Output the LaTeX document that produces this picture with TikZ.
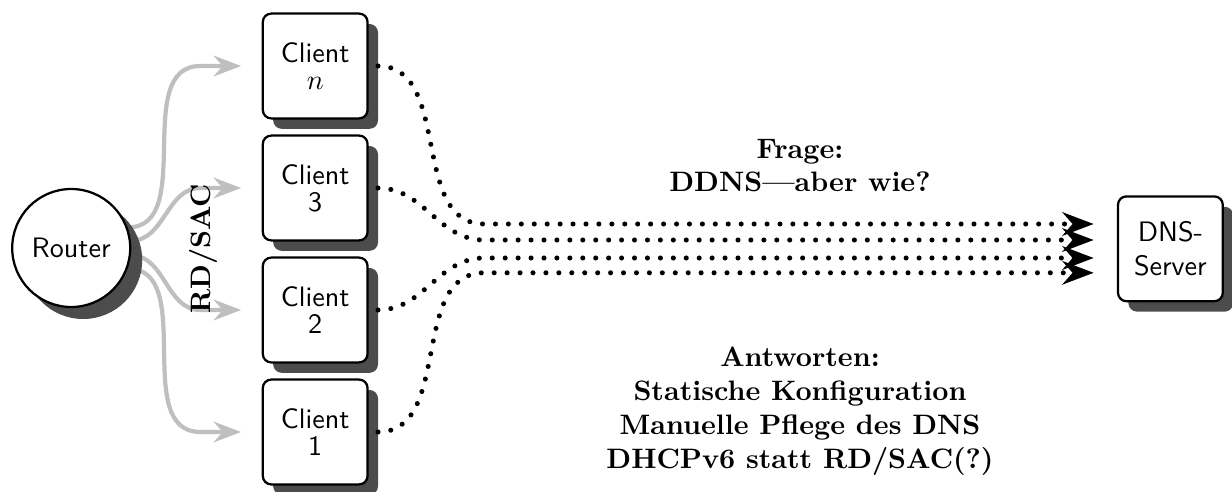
\documentclass[tikz,border=0pt]{standalone}
\usetikzlibrary{arrows.meta,shadows,backgrounds}
\begin{document}
\begin{tikzpicture}[thick,
  box/.style={draw, fill=white, rounded corners=3pt, minimum width=1.31cm, minimum height=1.31cm, inner sep=1pt, align=center,
    font=\sffamily\fontsize{10}{9.6}\selectfont,
    drop shadow={shadow xshift=0.13cm, shadow yshift=-0.13cm, fill=black!70, opacity=1}},
  client/.style={box, outer xsep=0.13cm},
  router/.style={draw, fill=white, circle, minimum size=1.475cm, inner sep=0pt, font=\sffamily,
    drop shadow={shadow xshift=0.15cm, shadow yshift=-0.15cm, fill=black!70, opacity=1}},
  ra/.style={line width=1.5pt, black!25, -{Stealth}, shorten >=4pt},
  dns/.style={line width=1.8pt, line cap=round, dash pattern=on 0pt off 4.6pt, -{Stealth}, shorten >=0.29cm}]
\useasboundingbox (0,0) rectangle (15.4,-6.15);
% 节点
\node[router] (router) at (0.89,-3.1) {Router};
\node[client] (cn) at (3.94,-0.825) {Client\\$n$};
\node[client] (c3) at (3.94,-2.35) {Client\\3};
\node[client] (c2) at (3.94,-3.875) {Client\\2};
\node[client] (c1) at (3.94,-5.4) {Client\\1};
\node[box, font=\sffamily] (server) at (14.63,-3.11) {DNS-\\Server};

% RD/SAC
\begin{scope}[on background layer]
\draw[ra] (router.20) to[out=0,in=180] ([xshift=-0.65cm]cn.west) -- (cn.west);
\draw[ra] (router.7) to[out=0,in=180] ([xshift=-0.65cm]c3.west) -- (c3.west);
\draw[ra] (router.-7) to[out=0,in=180] ([xshift=-0.65cm]c2.west) -- (c2.west);
\draw[ra] (router.-20) to[out=0,in=180] ([xshift=-0.65cm]c1.west) -- (c1.west);
\end{scope}
\node[rotate=90, font=\bfseries] (rdsac) at (2.54,-3.11) {RD/SAC};

% DDNS
\coordinate (bn) at (6.05,-2.8);
\coordinate (b3) at (6.05,-3.0);
\coordinate (b2) at (6.05,-3.225);
\coordinate (b1) at (6.05,-3.41);
\draw[dns] (cn.east) to[out=0,in=180] (bn) -- (bn -| server.west);
\draw[dns] (c3.east) to[out=0,in=180] (b3) -- (b3 -| server.west);
\draw[dns] (c2.east) to[out=0,in=180] (b2) -- (b2 -| server.west);
\draw[dns] (c1.east) to[out=0,in=180] (b1) -- (b1 -| server.west);

\node[align=center, font=\bfseries] (frage) at (10,-2.07) {Frage:\\DDNS---aber wie?};
\node[align=center, font=\bfseries] (antw) at (10,-5.14) {Antworten:\\Statische Konfiguration\\Manuelle Pflege des DNS\\DHCPv6 statt RD/SAC(?)};
\end{tikzpicture}
\end{document}
